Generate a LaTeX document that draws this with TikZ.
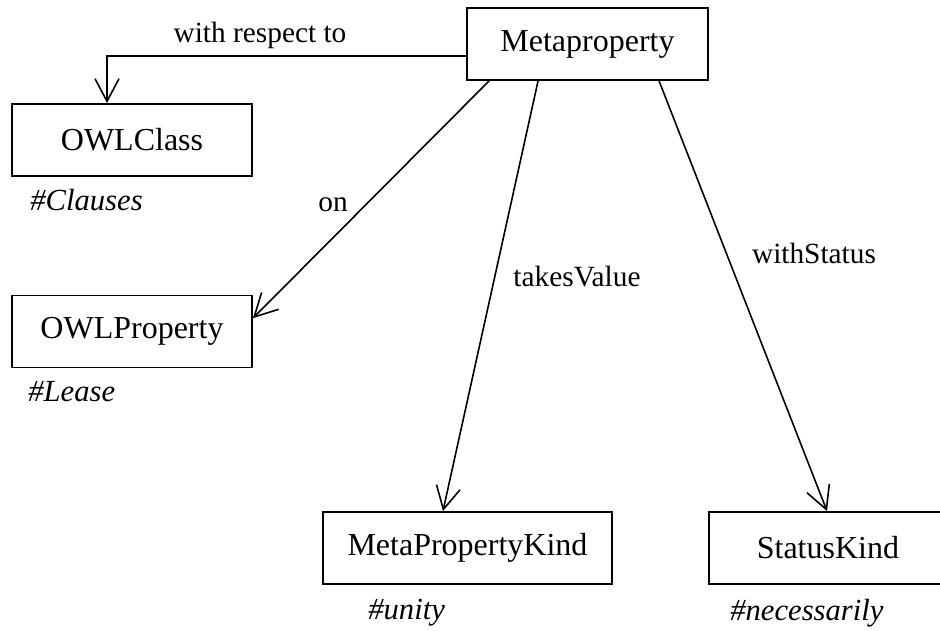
\documentclass[tikz,border=0pt]{standalone}
\usepackage{fontspec}
\setmainfont{Liberation Serif}
\usetikzlibrary{arrows.meta}

\tikzset{
  classbox/.style={draw, line width=1.4pt, minimum height=54pt, inner sep=0pt,
    font=\fontsize{24}{28}\selectfont},
  rolelabel/.style={font=\fontsize{22}{26}\selectfont, inner sep=0pt},
  instlabel/.style={anchor=west, font=\fontsize{23}{27}\selectfont\itshape, inner sep=0pt},
  assoc/.style={line width=1.2pt, -{Straight Barb[length=17pt,width=18pt,line width=1.2pt]}}
}

\begin{document}
\begin{tikzpicture}[x=0.75pt, y=-0.75pt]
% Page frame
\useasboundingbox (0,0) rectangle (940,631);

% Draw the classes
\node[classbox, minimum width=180.75pt] (meta) at (587.5, 44) {Metaproperty};
\node[classbox, minimum width=180pt] (owlclass) at (132, 140) {OWLClass};
\node[classbox, minimum width=180pt] (owlprop) at (132, 331.5) {OWLProperty};
\node[classbox, minimum width=216.75pt] (mpkind) at (467.5, 548) {MetaPropertyKind};
% runs off the right edge of the page
\node[classbox, minimum width=210pt, anchor=west] (statkind) at (708, 548) {StatusKind\hspace*{31.5pt}};

% Instance names below the classes
\node[instlabel] (clauses) at (30, 200) {\#Clauses};
\node[instlabel] (lease) at (28, 392) {\#Lease};
\node[instlabel] (unity) at (368, 613) {\#unity};
\node[instlabel] (necess) at (730, 613) {\#necessarily};

% Draw the associations
\coordinate (wrtbend) at (107, 56);
\coordinate (skin) at (827, 512);
\draw[assoc] (meta.west |- wrtbend) -- (wrtbend) -- (wrtbend |- owlclass.north);
\draw[assoc] ([xshift=17.25pt]meta.south west) -- ([yshift=10pt]owlprop.east);
\draw[assoc] ([xshift=54pt]meta.south west) -- ([xshift=-18.4pt]mpkind.north);
\draw[assoc] ([xshift=144.75pt]meta.south west) -- (skin |- statkind.north);

% Association names
\node[rolelabel] (wrtlbl) at (260, 35) {with respect to};
\node[rolelabel] (onlbl) at (333, 205) {on};
\node[rolelabel] (takeslbl) at (577, 277) {takesValue};
\node[rolelabel] (statuslbl) at (814, 253) {withStatus};
\end{tikzpicture}
\end{document}
